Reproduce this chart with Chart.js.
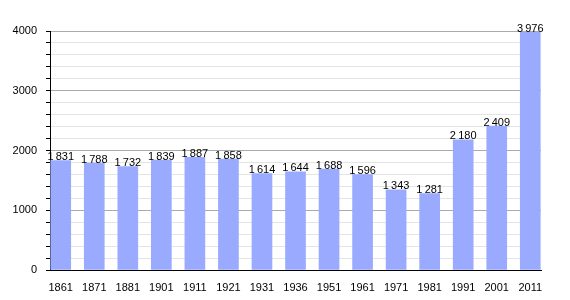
<!DOCTYPE html>
<html>
<head>
<meta charset="utf-8">
<script src="https://cdn.jsdelivr.net/npm/chart.js@4"></script>
<style>
  html, body { margin: 0; padding: 0; background: #fff; }
  #wrap { width: 570px; height: 300px; }
</style>
</head>
<body>
<div id="wrap"><canvas id="chart"></canvas></div>
<script>
// 年ごとの人口
const years = ['1861', '1871', '1881', '1901', '1911', '1921', '1931', '1936', '1951', '1961', '1971', '1981', '1991', '2001', '2011']
const population = [1831, 1788, 1732, 1839, 1887, 1858, 1614, 1644, 1688, 1596, 1343, 1281, 2180, 2409, 3976]
const yTicks = [0, 1000, 2000, 3000, 4000]

// 棒の上に数値を表示（千の位はスペース区切り）
const valueLabels = {
  id: 'valueLabels',
  afterDatasetsDraw(chart) {
    const ctx = chart.ctx
    const meta = chart.getDatasetMeta(0)
    ctx.save()
    ctx.font = "11px 'Liberation Sans', Arial, sans-serif"
    ctx.fillStyle = '#000'
    ctx.textAlign = 'center'
    ctx.textBaseline = 'bottom'
    meta.data.forEach((bar, i) => {
      const v = population[i]
      const text = Math.floor(v / 1000) + '\u2009' + String(v % 1000).padStart(3, '0')
      ctx.fillText(text, bar.x, bar.y + 2)
    })
    ctx.restore()
  }
}

Chart.defaults.font.family = "'Liberation Sans', Arial, sans-serif"
Chart.defaults.font.size = 11
Chart.defaults.color = '#000'

new Chart(document.getElementById('chart'), {
  type: 'bar',
  data: {
    datasets: [{
      data: population.map((v, i) => ({ x: i, y: v })),
      backgroundColor: 'rgb(153, 170, 255)',
      borderWidth: 0,
      barThickness: 20
    }]
  },
  options: {
    responsive: true,
    maintainAspectRatio: false,
    animation: false,
    layout: { padding: { top: 31, right: 29, left: 0, bottom: 0 } },
    plugins: {
      legend: { display: false },
      tooltip: { enabled: false }
    },
    scales: {
      x: {
        type: 'linear',
        offset: false,
        min: -0.32,
        max: 14.32,
        afterFit(scale) { scale.height = 30 },
        grid: { display: false, offset: false },
        border: { display: true, color: '#000', width: 1 },
        ticks: {
          stepSize: 1,
          includeBounds: false,
          autoSkip: false,
          maxRotation: 0,
          padding: 3,
          callback: (value) => Number.isInteger(value) ? years[value] : ''
        }
      },
      y: {
        min: 0,
        max: 4000,
        afterFit(scale) { scale.width = 50 },
        border: { display: true, color: '#000', width: 1 },
        grid: {
          color: (c) => c.tick && yTicks.includes(c.tick.value) ? '#aaaaaa' : '#e4e4e4',
          tickColor: '#000',
          tickLength: 4
        },
        ticks: {
          stepSize: 200,
          padding: 9,
          autoSkip: false,
          callback: (value) => yTicks.includes(value) ? String(value) : ''
        }
      }
    }
  },
  plugins: [valueLabels]
})
</script>
</body>
</html>
